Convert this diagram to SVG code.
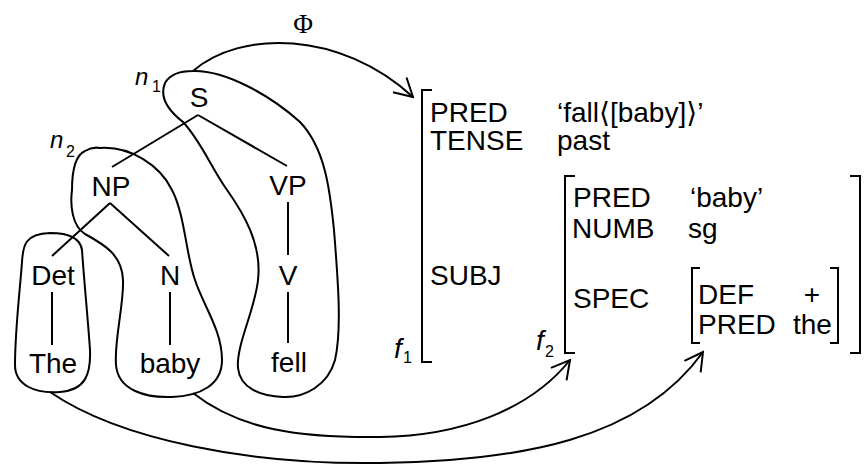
<svg xmlns="http://www.w3.org/2000/svg" width="865" height="466" viewBox="0 0 865 466">
<style>
.t{font-family:"Liberation Sans",Arial,sans-serif;font-size:28px;fill:#000}
.m{text-anchor:middle}
.i{font-style:italic}
.sub{font-family:"Liberation Sans",Arial,sans-serif;font-size:16px;fill:#000}
.ln{stroke:#000;stroke-width:2;fill:none}
.br{stroke:#000;stroke-width:2;fill:none}
.blob{stroke:#000;stroke-width:2;fill:none}
.arr{stroke:#000;stroke-width:2;fill:none;marker-end:url(#ah)}
</style>
<defs>
<marker id="ah" viewBox="-22 -12 24 24" markerWidth="24" markerHeight="24" refX="0" refY="0" orient="auto" markerUnits="userSpaceOnUse">
<path d="M-18,-10 L0,0 L-18,10" fill="none" stroke="#000" stroke-width="2"/>
</marker>
</defs>
<rect width="865" height="466" fill="#fff"/>

<g id="blobs">
<path id="blob-n1" class="blob" d="M193,71 C225,70 270,95 300,122 C325,148 330,190 334,230 C338,280 342,330 335,360 C328,385 305,398 283,397 C260,396 240,388 238,368 C236,345 255,310 258,280 C262,245 245,215 225,187 C210,165 200,140 183,122 C165,108 160,95 165,83 C170,74 180,71 193,71 Z"/>
<path id="blob-n2" class="blob" d="M100,148 C130,146 160,165 172,190 C185,215 186,255 195,280 C203,305 222,330 222,360 C222,385 200,396 172,397 C145,398 118,390 116,365 C114,340 124,305 123,280 C122,255 105,245 85,234 C72,226 70,205 72,190 C72,170 76,155 85,151 C90,148 95,147 100,148 Z"/>
<path id="blob-det" class="blob" d="M50,233 C65,233 80,236 82,250 C84,280 88,320 90,350 C91,375 85,390 60,392 C35,394 15,385 15,365 C15,330 20,290 22,262 C23,245 25,234 50,233 Z"/>
</g>

<g id="connectors">
<line class="ln" x1="198" y1="115" x2="112" y2="167"/>
<line class="ln" x1="198" y1="115" x2="287" y2="166"/>
<line class="ln" x1="110" y1="203" x2="52" y2="256"/>
<line class="ln" x1="110" y1="203" x2="169" y2="256"/>
<line class="ln" x1="52" y1="292" x2="52" y2="345"/>
<line class="ln" x1="170" y1="292" x2="170" y2="345"/>
<line class="ln" x1="288" y1="202" x2="288" y2="255"/>
<line class="ln" x1="288" y1="292" x2="288" y2="343"/>
<path id="phi-arrow" class="arr" d="M193,71 C240,30 340,30 413,97"/>
<path id="baby-arrow" class="arr" d="M193,393 C240,430 300,438 380,437 C460,436 530,410 570,360"/>
<path id="the-arrow" class="arr" d="M50,392 C120,440 250,465 380,463 C520,461 640,440 703,352"/>
</g>

<g id="phi"><text x="303" y="33" text-anchor="middle" style="font-family:'Liberation Serif','Times New Roman',serif;font-size:27px">Φ</text></g>

<g id="node-S"><text class="t m" x="199" y="107">S</text>
<text class="t i" x="135" y="85" style="font-size:24px">n</text><text class="sub" x="152" y="92">1</text></g>
<g id="node-NP"><text class="t m" x="111" y="196">NP</text>
<text class="t i" x="50" y="148" style="font-size:24px">n</text><text class="sub" x="66" y="157">2</text></g>
<g id="node-VP"><text class="t m" x="288" y="195">VP</text></g>
<g id="node-Det"><text class="t m" x="53" y="285">Det</text></g>
<g id="node-N"><text class="t m" x="170" y="285">N</text></g>
<g id="node-V"><text class="t m" x="288" y="285">V</text></g>
<g id="node-The"><text class="t m" x="53" y="373">The</text></g>
<g id="node-baby"><text class="t m" x="170" y="373">baby</text></g>
<g id="node-fell"><text class="t m" x="289" y="372">fell</text></g>

<g id="f1">
<path class="br" d="M432,90 L422,90 L422,362 L432,362"/>
<text class="t" x="430" y="122">PRED</text>
<text class="t" x="557" y="122" style="font-family:'Liberation Sans','DejaVu Sans',sans-serif">‘fall⟨[baby]⟩’</text>
<text class="t" x="430" y="150">TENSE</text>
<text class="t" x="557" y="150">past</text>
<text class="t" x="430" y="285">SUBJ</text>
<text class="t i" x="394" y="358">f</text><text class="sub" x="403" y="363">1</text>
</g>

<g id="f2">
<path class="br" d="M575,176 L565,176 L565,353 L575,353"/>
<path class="br" d="M850,176 L860,176 L860,353 L850,353"/>
<text class="t" x="573" y="207">PRED</text>
<text class="t" x="690" y="207">‘baby’</text>
<text class="t" x="572" y="238">NUMB</text>
<text class="t" x="688" y="238">sg</text>
<text class="t" x="573" y="308">SPEC</text>
<text class="t i" x="536" y="350">f</text><text class="sub" x="545" y="357">2</text>
</g>

<g id="spec">
<path class="br" d="M700,268 L692,268 L692,343 L700,343"/>
<path class="br" d="M830,268 L838,268 L838,343 L830,343"/>
<text class="t" x="698" y="304">DEF</text>
<text class="t m" x="812" y="304">+</text>
<text class="t" x="698" y="334">PRED</text>
<text class="t" x="793" y="334">the</text>
</g>
</svg>
